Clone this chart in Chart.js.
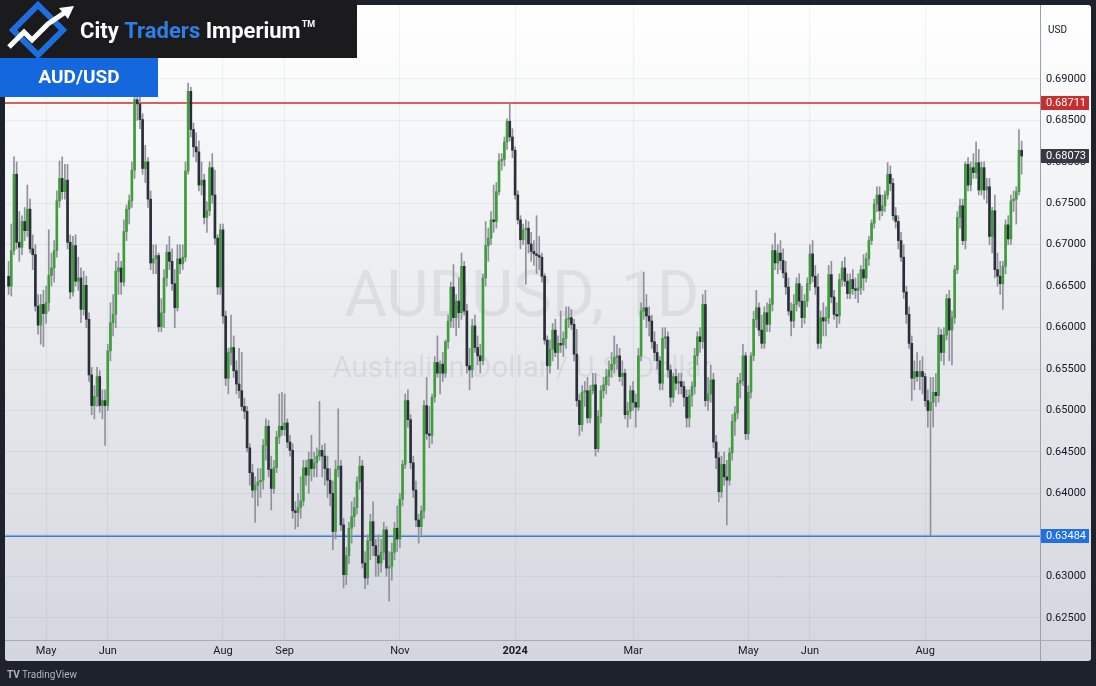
<!DOCTYPE html>
<html>
<head>
<meta charset="utf-8">
<title>AUD/USD daily</title>
<script src="https://cdn.jsdelivr.net/npm/chart.js@4.4.1/dist/chart.umd.min.js"></script>
<style>
  html, body { margin: 0; padding: 0; background: #1e222d; }
  #wrap { width: 1096px; height: 686px; }
</style>
</head>
<body>
<div id="wrap"><canvas id="chart" width="1096" height="686"></canvas></div>
<script>
// AUD/USD daily candles, one per weekday starting 11 Apr 2023
const firstDay = '2023-04-11';

const opens = [
  0.6662,0.6650,0.6693,0.6785,0.6703,0.6697,0.6728,0.6717,0.6743,0.6695,
  0.6688,0.6626,0.6603,0.6628,0.6617,0.6630,0.6663,0.6672,0.6693,0.6753,
  0.6780,0.6764,0.6778,0.6703,0.6643,0.6699,0.6656,0.6660,0.6622,0.6651,
  0.6610,0.6543,0.6506,0.6517,0.6541,0.6506,0.6512,0.6506,0.6572,0.6606,
  0.6616,0.6668,0.6672,0.6655,0.6716,0.6743,0.6753,0.6790,0.6875,0.6870,
  0.6851,0.6792,0.6800,0.6755,0.6678,0.6683,0.6687,0.6601,0.6618,0.6660,
  0.6691,0.6680,0.6653,0.6624,0.6683,0.6677,0.6685,0.6789,0.6885,0.6839,
  0.6818,0.6812,0.6772,0.6778,0.6733,0.6741,0.6793,0.6760,0.6708,0.6649,
  0.6718,0.6614,0.6539,0.6570,0.6576,0.6548,0.6532,0.6524,0.6505,0.6499,
  0.6455,0.6425,0.6404,0.6410,0.6414,0.6416,0.6458,0.6481,0.6429,0.6406,
  0.6431,0.6468,0.6481,0.6477,0.6485,0.6462,0.6452,0.6379,0.6377,0.6383,
  0.6391,0.6431,0.6422,0.6441,0.6430,0.6437,0.6445,0.6452,0.6445,0.6430,
  0.6416,0.6400,0.6354,0.6429,0.6433,0.6362,0.6302,0.6325,0.6358,0.6372,
  0.6383,0.6414,0.6433,0.6316,0.6298,0.6343,0.6366,0.6337,0.6325,0.6316,
  0.6329,0.6356,0.6310,0.6312,0.6329,0.6358,0.6345,0.6393,0.6435,0.6512,
  0.6489,0.6437,0.6404,0.6368,0.6360,0.6379,0.6506,0.6472,0.6470,0.6516,
  0.6558,0.6545,0.6556,0.6545,0.6583,0.6608,0.6649,0.6612,0.6632,0.6618,
  0.6674,0.6620,0.6554,0.6549,0.6602,0.6576,0.6566,0.6560,0.6660,0.6699,
  0.6708,0.6730,0.6728,0.6764,0.6801,0.6803,0.6824,0.6849,0.6830,0.6814,
  0.6760,0.6730,0.6706,0.6718,0.6720,0.6701,0.6692,0.6689,0.6687,0.6685,
  0.6662,0.6585,0.6554,0.6574,0.6597,0.6570,0.6581,0.6579,0.6587,0.6610,
  0.6612,0.6604,0.6568,0.6512,0.6483,0.6522,0.6524,0.6491,0.6524,0.6531,
  0.6454,0.6493,0.6524,0.6531,0.6541,0.6549,0.6556,0.6564,0.6566,0.6541,
  0.6545,0.6495,0.6499,0.6524,0.6510,0.6504,0.6566,0.6620,0.6624,0.6614,
  0.6608,0.6583,0.6570,0.6560,0.6533,0.6587,0.6589,0.6549,0.6516,0.6541,
  0.6533,0.6535,0.6529,0.6516,0.6491,0.6518,0.6529,0.6566,0.6589,0.6583,
  0.6628,0.6512,0.6520,0.6537,0.6462,0.6443,0.6402,0.6435,0.6420,0.6416,
  0.6449,0.6487,0.6497,0.6533,0.6536,0.6566,0.6472,0.6522,0.6566,0.6610,
  0.6624,0.6597,0.6581,0.6618,0.6604,0.6628,0.6693,0.6678,0.6690,0.6681,
  0.6666,0.6649,0.6620,0.6608,0.6628,0.6653,0.6632,0.6612,0.6632,0.6653,
  0.6689,0.6662,0.6649,0.6581,0.6612,0.6608,0.6612,0.6664,0.6637,0.6616,
  0.6614,0.6658,0.6672,0.6656,0.6641,0.6658,0.6647,0.6645,0.6648,0.6670,
  0.6660,0.6683,0.6705,0.6726,0.6749,0.6760,0.6741,0.6747,0.6760,0.6785,
  0.6774,0.6735,0.6728,0.6705,0.6685,0.6643,0.6616,0.6581,0.6539,0.6547,
  0.6541,0.6547,0.6541,0.6512,0.6500,0.6510,0.6522,0.6518,0.6591,0.6570,
  0.6591,0.6635,0.6597,0.6612,0.6670,0.6733,0.6747,0.6705,0.6797,0.6772,
  0.6793,0.6787,0.6799,0.6766,0.6793,0.6766,0.6770,0.6710,0.6741,0.6670,
  0.6662,0.6653,0.6674,0.6724,0.6707,0.6753,0.6755,0.6764,0.6814
];
const highs = [
  0.6680,0.6725,0.6806,0.6800,0.6740,0.6735,0.6745,0.6772,0.6755,0.6712,
  0.6700,0.6640,0.6640,0.6645,0.6650,0.6718,0.6690,0.6705,0.6765,0.6801,
  0.6806,0.6797,0.6797,0.6712,0.6710,0.6712,0.6685,0.6672,0.6668,0.6662,
  0.6618,0.6552,0.6530,0.6552,0.6548,0.6525,0.6525,0.6580,0.6630,0.6640,
  0.6680,0.6690,0.6680,0.6730,0.6748,0.6760,0.6800,0.6885,0.6896,0.6878,
  0.6858,0.6820,0.6805,0.6765,0.6700,0.6700,0.6690,0.6635,0.6670,0.6700,
  0.6710,0.6695,0.6670,0.6700,0.6700,0.6700,0.6800,0.6895,0.6890,0.6847,
  0.6835,0.6825,0.6800,0.6785,0.6752,0.6800,0.6810,0.6790,0.6712,0.6725,
  0.6725,0.6620,0.6575,0.6615,0.6590,0.6560,0.6575,0.6570,0.6515,0.6505,
  0.6460,0.6435,0.6420,0.6430,0.6430,0.6465,0.6490,0.6488,0.6445,0.6440,
  0.6475,0.6520,0.6522,0.6520,0.6490,0.6470,0.6460,0.6390,0.6400,0.6420,
  0.6440,0.6440,0.6450,0.6470,0.6450,0.6455,0.6511,0.6458,0.6460,0.6445,
  0.6430,0.6415,0.6440,0.6502,0.6440,0.6370,0.6335,0.6365,0.6390,0.6395,
  0.6420,0.6445,0.6440,0.6330,0.6350,0.6375,0.6390,0.6345,0.6350,0.6345,
  0.6365,0.6360,0.6330,0.6340,0.6365,0.6385,0.6400,0.6440,0.6520,0.6525,
  0.6495,0.6445,0.6415,0.6375,0.6385,0.6512,0.6540,0.6505,0.6520,0.6565,
  0.6590,0.6560,0.6570,0.6585,0.6615,0.6655,0.6676,0.6640,0.6660,0.6690,
  0.6680,0.6628,0.6575,0.6610,0.6615,0.6590,0.6580,0.6665,0.6728,0.6720,
  0.6740,0.6772,0.6775,0.6810,0.6810,0.6830,0.6852,0.6871,0.6840,0.6818,
  0.6765,0.6735,0.6725,0.6730,0.6728,0.6715,0.6705,0.6735,0.6710,0.6690,
  0.6665,0.6590,0.6585,0.6605,0.6610,0.6590,0.6620,0.6595,0.6625,0.6625,
  0.6622,0.6610,0.6598,0.6520,0.6530,0.6535,0.6540,0.6530,0.6545,0.6545,
  0.6500,0.6530,0.6540,0.6550,0.6560,0.6570,0.6590,0.6580,0.6575,0.6560,
  0.6550,0.6510,0.6530,0.6535,0.6520,0.6575,0.6630,0.6667,0.6640,0.6625,
  0.6615,0.6595,0.6580,0.6565,0.6600,0.6600,0.6595,0.6555,0.6545,0.6550,
  0.6545,0.6545,0.6535,0.6525,0.6525,0.6535,0.6575,0.6595,0.6600,0.6640,
  0.6645,0.6540,0.6555,0.6545,0.6470,0.6450,0.6445,0.6450,0.6440,0.6455,
  0.6495,0.6505,0.6540,0.6545,0.6580,0.6570,0.6530,0.6570,0.6620,0.6645,
  0.6630,0.6615,0.6625,0.6630,0.6635,0.6700,0.6714,0.6700,0.6705,0.6695,
  0.6680,0.6660,0.6630,0.6640,0.6660,0.6665,0.6650,0.6640,0.6660,0.6700,
  0.6705,0.6675,0.6665,0.6620,0.6630,0.6625,0.6675,0.6680,0.6645,0.6630,
  0.6665,0.6680,0.6685,0.6665,0.6665,0.6670,0.6660,0.6665,0.6675,0.6688,
  0.6690,0.6710,0.6730,0.6755,0.6770,0.6770,0.6760,0.6765,0.6799,0.6795,
  0.6780,0.6745,0.6735,0.6715,0.6700,0.6650,0.6625,0.6590,0.6560,0.6570,
  0.6560,0.6565,0.6545,0.6525,0.6540,0.6540,0.6545,0.6600,0.6598,0.6600,
  0.6640,0.6645,0.6620,0.6675,0.6740,0.6755,0.6755,0.6800,0.6805,0.6800,
  0.6810,0.6824,0.6815,0.6800,0.6800,0.6780,0.6780,0.6745,0.6760,0.6690,
  0.6680,0.6680,0.6730,0.6735,0.6760,0.6765,0.6770,0.6839,0.6825
];
const lows = [
  0.6640,0.6638,0.6688,0.6695,0.6680,0.6688,0.6705,0.6710,0.6690,0.6670,
  0.6620,0.6592,0.6580,0.6577,0.6605,0.6620,0.6650,0.6655,0.6685,0.6745,
  0.6755,0.6755,0.6695,0.6635,0.6638,0.6650,0.6645,0.6606,0.6615,0.6600,
  0.6535,0.6495,0.6490,0.6505,0.6498,0.6490,0.6458,0.6500,0.6560,0.6590,
  0.6600,0.6640,0.6640,0.6650,0.6705,0.6725,0.6745,0.6780,0.6850,0.6840,
  0.6785,0.6775,0.6745,0.6670,0.6665,0.6665,0.6595,0.6595,0.6600,0.6650,
  0.6670,0.6645,0.6600,0.6620,0.6665,0.6670,0.6680,0.6785,0.6830,0.6806,
  0.6800,0.6765,0.6760,0.6725,0.6715,0.6735,0.6750,0.6700,0.6640,0.6640,
  0.6605,0.6530,0.6520,0.6555,0.6540,0.6520,0.6515,0.6500,0.6490,0.6450,
  0.6410,0.6395,0.6365,0.6385,0.6395,0.6405,0.6440,0.6420,0.6380,0.6400,
  0.6425,0.6460,0.6470,0.6470,0.6455,0.6445,0.6370,0.6357,0.6360,0.6370,
  0.6385,0.6410,0.6400,0.6415,0.6420,0.6420,0.6440,0.6420,0.6410,0.6395,
  0.6385,0.6332,0.6345,0.6420,0.6355,0.6286,0.6290,0.6315,0.6340,0.6360,
  0.6375,0.6405,0.6310,0.6285,0.6290,0.6320,0.6325,0.6300,0.6300,0.6305,
  0.6320,0.6300,0.6270,0.6295,0.6320,0.6330,0.6335,0.6385,0.6430,0.6480,
  0.6430,0.6395,0.6360,0.6340,0.6350,0.6370,0.6465,0.6455,0.6460,0.6510,
  0.6540,0.6520,0.6535,0.6540,0.6575,0.6600,0.6600,0.6590,0.6600,0.6610,
  0.6615,0.6545,0.6525,0.6540,0.6570,0.6555,0.6545,0.6555,0.6650,0.6680,
  0.6700,0.6715,0.6720,0.6760,0.6790,0.6795,0.6815,0.6825,0.6805,0.6755,
  0.6725,0.6695,0.6700,0.6652,0.6690,0.6680,0.6675,0.6665,0.6670,0.6655,
  0.6580,0.6525,0.6545,0.6560,0.6565,0.6550,0.6570,0.6565,0.6575,0.6600,
  0.6598,0.6560,0.6505,0.6470,0.6475,0.6505,0.6485,0.6485,0.6520,0.6445,
  0.6450,0.6485,0.6515,0.6520,0.6530,0.6540,0.6545,0.6550,0.6535,0.6530,
  0.6490,0.6480,0.6490,0.6500,0.6480,0.6500,0.6560,0.6610,0.6600,0.6590,
  0.6575,0.6560,0.6550,0.6525,0.6525,0.6575,0.6540,0.6505,0.6510,0.6525,
  0.6520,0.6520,0.6505,0.6480,0.6480,0.6505,0.6520,0.6555,0.6570,0.6575,
  0.6505,0.6500,0.6510,0.6455,0.6430,0.6390,0.6395,0.6410,0.6362,0.6410,
  0.6440,0.6470,0.6490,0.6515,0.6530,0.6465,0.6465,0.6515,0.6560,0.6600,
  0.6590,0.6575,0.6575,0.6595,0.6595,0.6620,0.6670,0.6665,0.6670,0.6660,
  0.6640,0.6615,0.6590,0.6600,0.6620,0.6625,0.6600,0.6605,0.6625,0.6645,
  0.6655,0.6640,0.6575,0.6575,0.6590,0.6590,0.6605,0.6630,0.6610,0.6600,
  0.6605,0.6650,0.6650,0.6635,0.6635,0.6640,0.6635,0.6630,0.6640,0.6645,
  0.6655,0.6675,0.6700,0.6720,0.6740,0.6730,0.6735,0.6740,0.6755,0.6765,
  0.6730,0.6720,0.6695,0.6680,0.6635,0.6605,0.6575,0.6512,0.6525,0.6535,
  0.6525,0.6520,0.6505,0.6480,0.63484,0.6480,0.6505,0.6510,0.6560,0.6555,
  0.6585,0.6560,0.6555,0.6605,0.6665,0.6720,0.6700,0.6695,0.6765,0.6765,
  0.6780,0.6780,0.6760,0.6760,0.6755,0.6750,0.6700,0.6690,0.6660,0.6650,
  0.6640,0.6622,0.6665,0.6700,0.6700,0.6740,0.6725,0.6760,0.6785
];
const closes = [
  0.6650,0.6693,0.6785,0.6703,0.6697,0.6728,0.6717,0.6743,0.6695,0.6688,
  0.6626,0.6603,0.6628,0.6617,0.6630,0.6663,0.6672,0.6693,0.6753,0.6780,
  0.6764,0.6778,0.6703,0.6643,0.6699,0.6656,0.6660,0.6622,0.6651,0.6610,
  0.6543,0.6506,0.6517,0.6541,0.6506,0.6512,0.6506,0.6572,0.6606,0.6616,
  0.6668,0.6672,0.6655,0.6716,0.6743,0.6753,0.6790,0.6875,0.6870,0.6851,
  0.6792,0.6800,0.6755,0.6678,0.6683,0.6687,0.6601,0.6618,0.6660,0.6691,
  0.6680,0.6653,0.6624,0.6683,0.6677,0.6685,0.6789,0.6885,0.6839,0.6818,
  0.6812,0.6772,0.6778,0.6733,0.6741,0.6793,0.6760,0.6708,0.6649,0.6718,
  0.6614,0.6539,0.6570,0.6576,0.6548,0.6532,0.6524,0.6505,0.6499,0.6455,
  0.6425,0.6404,0.6410,0.6414,0.6416,0.6458,0.6481,0.6429,0.6406,0.6431,
  0.6468,0.6481,0.6477,0.6485,0.6462,0.6452,0.6379,0.6377,0.6383,0.6391,
  0.6431,0.6422,0.6441,0.6430,0.6437,0.6445,0.6452,0.6445,0.6430,0.6416,
  0.6400,0.6354,0.6429,0.6433,0.6362,0.6302,0.6325,0.6358,0.6372,0.6383,
  0.6414,0.6433,0.6316,0.6298,0.6343,0.6366,0.6337,0.6325,0.6316,0.6329,
  0.6356,0.6310,0.6312,0.6329,0.6358,0.6345,0.6393,0.6435,0.6512,0.6489,
  0.6437,0.6404,0.6368,0.6360,0.6379,0.6506,0.6472,0.6470,0.6516,0.6558,
  0.6545,0.6556,0.6545,0.6583,0.6608,0.6649,0.6612,0.6632,0.6618,0.6674,
  0.6620,0.6554,0.6549,0.6602,0.6576,0.6566,0.6560,0.6660,0.6699,0.6708,
  0.6730,0.6728,0.6764,0.6801,0.6803,0.6824,0.6849,0.6830,0.6814,0.6760,
  0.6730,0.6706,0.6718,0.6720,0.6701,0.6692,0.6689,0.6687,0.6685,0.6662,
  0.6585,0.6554,0.6574,0.6597,0.6570,0.6581,0.6579,0.6587,0.6610,0.6612,
  0.6604,0.6568,0.6512,0.6483,0.6522,0.6524,0.6491,0.6524,0.6531,0.6454,
  0.6493,0.6524,0.6531,0.6541,0.6549,0.6556,0.6564,0.6566,0.6541,0.6545,
  0.6495,0.6499,0.6524,0.6510,0.6504,0.6566,0.6620,0.6624,0.6614,0.6608,
  0.6583,0.6570,0.6560,0.6533,0.6587,0.6589,0.6549,0.6516,0.6541,0.6533,
  0.6535,0.6529,0.6516,0.6491,0.6518,0.6529,0.6566,0.6589,0.6583,0.6628,
  0.6512,0.6520,0.6537,0.6462,0.6443,0.6402,0.6435,0.6420,0.6416,0.6449,
  0.6487,0.6497,0.6533,0.6536,0.6566,0.6472,0.6522,0.6566,0.6610,0.6624,
  0.6597,0.6581,0.6618,0.6604,0.6628,0.6693,0.6678,0.6690,0.6681,0.6666,
  0.6649,0.6620,0.6608,0.6628,0.6653,0.6632,0.6612,0.6632,0.6653,0.6689,
  0.6662,0.6649,0.6581,0.6612,0.6608,0.6612,0.6664,0.6637,0.6616,0.6614,
  0.6658,0.6672,0.6656,0.6641,0.6658,0.6647,0.6645,0.6648,0.6670,0.6660,
  0.6683,0.6705,0.6726,0.6749,0.6760,0.6741,0.6747,0.6760,0.6785,0.6774,
  0.6735,0.6728,0.6705,0.6685,0.6643,0.6616,0.6581,0.6539,0.6547,0.6541,
  0.6547,0.6541,0.6512,0.6500,0.6510,0.6522,0.6518,0.6591,0.6570,0.6591,
  0.6635,0.6597,0.6612,0.6670,0.6733,0.6747,0.6705,0.6797,0.6772,0.6793,
  0.6787,0.6799,0.6766,0.6793,0.6766,0.6770,0.6710,0.6741,0.6670,0.6662,
  0.6653,0.6674,0.6724,0.6707,0.6753,0.6755,0.6764,0.6814,0.6807
];

// axis labels
const monthTicks = ['2023-05','2023-06','2023-08','2023-09','2023-11','2024-01','2024-03','2024-05','2024-06','2024-08'];
const monthTickLabels = ['May','Jun','Aug','Sep','Nov','2024','Mar','May','Jun','Aug'];
const priceTicks = [0.625,0.63,0.635,0.64,0.645,0.65,0.655,0.66,0.665,0.67,0.675,0.68,0.685,0.69];

// marked levels
const resistanceLevel = 0.68711;
const supportLevel = 0.63484;
const lastPrice = 0.68073;

// weekday dates for the candles
const days = [];
let cur = new Date(firstDay + 'T00:00:00Z');
while (days.length < closes.length) {
  const wd = cur.getUTCDay();
  if (wd !== 0 && wd !== 6) days.push(cur.toISOString().slice(0, 10));
  cur.setUTCDate(cur.getUTCDate() + 1);
}
const tickIndex = monthTicks.map(m => days.findIndex(s => s.startsWith(m)));

const UP = '#3f9d3c', DOWN = '#2a2e39', WICK = '#8f929b';
const bodies = [], wicks = [], bodyColors = [];
for (let i = 0; i < closes.length; i++) {
  bodies.push({ x: i, y: [opens[i], closes[i]] });
  wicks.push({ x: i, y: [lows[i], highs[i]] });
  bodyColors.push(closes[i] >= opens[i] ? UP : DOWN);
}

const W = 1096, H = 686;

function priceBox(ctx, yScale, value, fill, right) {
  const y = Math.round(yScale.getPixelForValue(value));
  ctx.fillStyle = fill;
  ctx.fillRect(right + 1, y - 7, 48, 14);
  ctx.fillStyle = '#ffffff';
  ctx.font = '11px Roboto, "DejaVu Sans", sans-serif';
  ctx.textAlign = 'left';
  ctx.textBaseline = 'middle';
  ctx.fillText(value.toFixed(5), right + 6, y + 0.5);
}

const decor = {
  id: 'decor',
  beforeDraw(chart) {
    const { ctx, chartArea: a } = chart;
    ctx.save();
    ctx.fillStyle = '#1e222d';
    ctx.fillRect(0, 0, W, H);
    const g = ctx.createLinearGradient(0, a.top, 0, 660);
    g.addColorStop(0, '#ffffff');
    g.addColorStop(1, '#d3d6dd');
    ctx.fillStyle = g;
    ctx.beginPath();
    ctx.roundRect(5, 5, 1086, 656, 3);
    ctx.fill();
    ctx.restore();
  },
  beforeDatasetsDraw(chart) {
    const { ctx, chartArea: a, scales } = chart;
    ctx.save();
    // watermark
    ctx.fillStyle = 'rgba(42,46,57,0.075)';
    ctx.textAlign = 'center';
    ctx.textBaseline = 'middle';
    ctx.font = '65px Roboto, "DejaVu Sans", sans-serif';
    ctx.fillText('AUDUSD, 1D', 522, 300);
    ctx.font = '29.5px Roboto, "DejaVu Sans", sans-serif';
    ctx.fillText('Australian Dollar / U.S. Dollar', 522, 370);
    // level lines
    const yR = scales.y.getPixelForValue(resistanceLevel);
    const yS = scales.y.getPixelForValue(supportLevel);
    ctx.lineWidth = 1.5;
    ctx.strokeStyle = '#c62f2f';
    ctx.beginPath(); ctx.moveTo(a.left, yR); ctx.lineTo(a.right, yR); ctx.stroke();
    ctx.strokeStyle = '#3b7ae0';
    ctx.beginPath(); ctx.moveTo(a.left, yS); ctx.lineTo(a.right, yS); ctx.stroke();
    ctx.restore();
  },
  afterDraw(chart) {
    const { ctx, chartArea: a, scales } = chart;
    ctx.save();
    // axis separators
    ctx.strokeStyle = '#9da0a8';
    ctx.lineWidth = 1;
    ctx.beginPath(); ctx.moveTo(a.right + 0.5, 5); ctx.lineTo(a.right + 0.5, 661); ctx.stroke();
    ctx.strokeStyle = '#a9acb4';
    ctx.beginPath(); ctx.moveTo(5, a.bottom + 0.5); ctx.lineTo(1091, a.bottom + 0.5); ctx.stroke();

    // price tags
    priceBox(ctx, scales.y, resistanceLevel, '#c62f2f', a.right);
    priceBox(ctx, scales.y, lastPrice, '#363a45', a.right);
    priceBox(ctx, scales.y, supportLevel, '#1f6fe5', a.right);

    ctx.fillStyle = '#131722';
    ctx.font = '10px Roboto, "DejaVu Sans", sans-serif';
    ctx.textAlign = 'left';
    ctx.textBaseline = 'middle';
    ctx.fillText('USD', 1048, 30);

    // brand box
    ctx.fillStyle = '#1b1b1d';
    ctx.fillRect(0, 0, 357, 58);
    ctx.lineJoin = 'miter';
    ctx.strokeStyle = '#1d6fe0';
    ctx.lineWidth = 6;
    ctx.beginPath();
    ctx.moveTo(38, 5); ctx.lineTo(63, 30); ctx.lineTo(38, 55); ctx.lineTo(13, 30); ctx.closePath();
    ctx.stroke();
    ctx.strokeStyle = '#ffffff';
    ctx.lineWidth = 5;
    ctx.beginPath();
    ctx.moveTo(9, 47); ctx.lineTo(24, 32); ctx.lineTo(32, 40); ctx.lineTo(48, 24); ctx.lineTo(64, 13);
    ctx.stroke();
    ctx.fillStyle = '#ffffff';
    ctx.beginPath();
    ctx.moveTo(74, 6); ctx.lineTo(59, 8); ctx.lineTo(68, 19); ctx.closePath();
    ctx.fill();

    ctx.font = 'bold 22px Roboto, "DejaVu Sans", sans-serif';
    ctx.textBaseline = 'alphabetic';
    let x = 80;
    const parts = [['City ', '#ffffff'], ['Traders ', '#2f7ee6'], ['Imperium', '#ffffff']];
    for (const [t, c] of parts) {
      ctx.fillStyle = c;
      ctx.fillText(t, x, 38);
      x += ctx.measureText(t).width;
    }
    ctx.font = 'bold 9px Roboto, "DejaVu Sans", sans-serif';
    ctx.fillStyle = '#ffffff';
    ctx.fillText('TM', x + 1, 27);

    ctx.fillStyle = '#1467dd';
    ctx.fillRect(0, 58, 158, 39);
    ctx.fillStyle = '#ffffff';
    ctx.font = 'bold 19px Roboto, "DejaVu Sans", sans-serif';
    ctx.textAlign = 'center';
    ctx.textBaseline = 'middle';
    ctx.fillText('AUD/USD', 79, 78);

    // footer mark
    ctx.textAlign = 'left';
    ctx.fillStyle = '#b2b5be';
    ctx.font = 'bold 10px Roboto, "DejaVu Sans", sans-serif';
    ctx.fillText('TV', 7, 675);
    ctx.font = '10px Roboto, "DejaVu Sans", sans-serif';
    ctx.fillText('TradingView', 22, 675);
    ctx.restore();
  }
};

Chart.defaults.font.family = 'Roboto, "DejaVu Sans", sans-serif';

new Chart(document.getElementById('chart'), {
  type: 'bar',
  data: {
    datasets: [
      { label: 'body', data: bodies, backgroundColor: bodyColors, barThickness: 2, minBarLength: 1, grouped: false, order: 0 },
      { label: 'wick', data: wicks, backgroundColor: WICK, barThickness: 1, grouped: false, order: 1 }
    ]
  },
  options: {
    responsive: false,
    devicePixelRatio: 1,
    animation: false,
    layout: { padding: { left: 5, top: 5, right: 5, bottom: 26 } },
    plugins: { legend: { display: false }, tooltip: { enabled: false } },
    scales: {
      x: {
        type: 'linear',
        position: 'bottom',
        min: -1.34,
        max: 384.85,
        offset: false,
        afterFit: s => { s.height = 20; s.paddingLeft = 0; s.paddingRight = 0; },
        afterBuildTicks: s => { s.ticks = tickIndex.map(v => ({ value: v })); },
        grid: { color: 'rgba(42,46,57,0.06)', drawTicks: false, offset: false },
        border: { display: false },
        ticks: {
          autoSkip: false,
          maxRotation: 0,
          padding: 5,
          color: '#131722',
          font: c => ({ size: 11, weight: (c.tick && c.tick.label === '2024') ? 'bold' : 'normal' }),
          callback: v => monthTickLabels[tickIndex.indexOf(v)]
        }
      },
      y: {
        position: 'right',
        min: 0.62232,
        max: 0.69892,
        afterFit: s => { s.width = 51; s.paddingTop = 0; s.paddingBottom = 0; },
        afterBuildTicks: s => { s.ticks = priceTicks.map(v => ({ value: v })); },
        grid: { color: 'rgba(42,46,57,0.06)', drawTicks: false },
        border: { display: false },
        ticks: {
          padding: 6,
          color: '#131722',
          font: { size: 11 },
          callback: v => v.toFixed(5)
        }
      }
    }
  },
  plugins: [decor]
});
</script>
</body>
</html>
